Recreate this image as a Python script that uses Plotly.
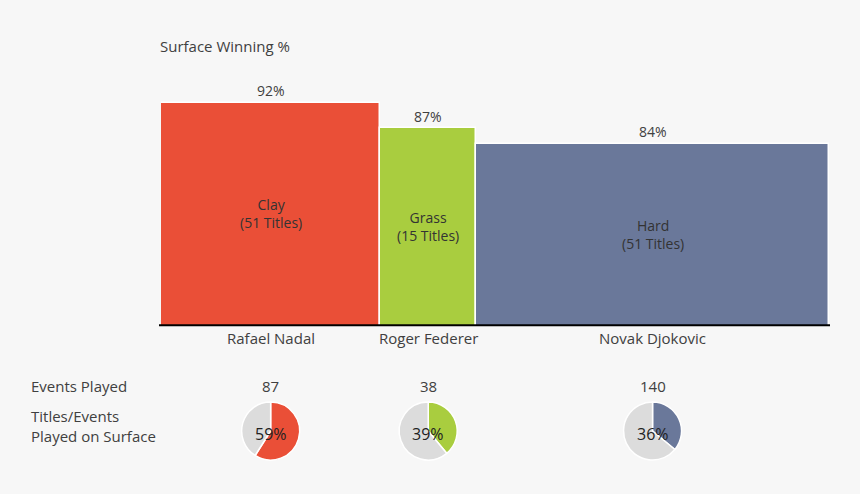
import plotly.graph_objects as go
import numpy as np

players = ["Rafael Nadal", "Roger Federer", "Novak Djokovic"]
surfaces = ["Clay", "Grass", "Hard"]
titles = [51, 15, 51]
win_pct = [92, 87, 84]
events_played = [87, 38, 140]
titles_share = [59, 39, 36]
colors = ["#EA4F37", "#A9CD3F", "#6A789A"]
rest_color = "#DCDCDC"

W, H = 860, 494
FONT = "Open Sans"
TXT = "#404040"

# layout geometry (pixels)
plot_l, plot_r = 161, 829
plot_top, plot_bot = 60, 325.3
y0 = 48.5
px_per_pct = 5.12
y1 = y0 + (plot_bot - plot_top) / px_per_pct

edges = np.concatenate([[0], np.cumsum(events_played)])
centers = (edges[:-1] + edges[1:]) / 2
total = edges[-1]

def py(p):
    return 1 - p / H

fig = go.Figure()
fig.add_trace(go.Bar(
    x=centers, y=win_pct, width=events_played,
    marker=dict(color=colors, line=dict(color="white", width=1.5)),
    showlegend=False, hoverinfo="skip",
))

annotations = []
annotations.append(dict(text="Surface Winning %", x=159 / W, y=py(46), xref="paper", yref="paper",
                        xanchor="left", yanchor="middle", showarrow=False, borderpad=0,
                        font=dict(size=15, color=TXT)))
for i in range(3):
    annotations.append(dict(text=f"{win_pct[i]}%", x=centers[i], y=win_pct[i], xref="x", yref="y",
                            xanchor="center", yanchor="middle", yshift=12, showarrow=False,
                            font=dict(size=14, color=TXT)))
    annotations.append(dict(text=f"{surfaces[i]}<br>({titles[i]} Titles)", x=centers[i],
                            y=(win_pct[i] + y0) / 2, xref="x", yref="y",
                            xanchor="center", yanchor="middle", showarrow=False,
                            font=dict(size=14, color="#333333")))
    annotations.append(dict(text=players[i], x=centers[i], y=py(338), xref="x", yref="paper",
                            xanchor="center", yanchor="middle", showarrow=False,
                            font=dict(size=15, color=TXT)))
    annotations.append(dict(text=str(events_played[i]), x=centers[i], y=py(386), xref="x", yref="paper",
                            xanchor="center", yanchor="middle", showarrow=False,
                            font=dict(size=15, color=TXT)))
    annotations.append(dict(text=f"{titles_share[i]}%", x=centers[i], y=py(434), xref="x", yref="paper",
                            xanchor="center", yanchor="middle", showarrow=False,
                            font=dict(size=16, color="#222222")))
    cx = plot_l + centers[i] / total * (plot_r - plot_l)
    r = 29
    fig.add_trace(go.Pie(
        values=[titles_share[i], 100 - titles_share[i]],
        marker=dict(colors=[colors[i], rest_color], line=dict(color="white", width=1.5)),
        sort=False, direction="clockwise", rotation=0, textinfo="none",
        hoverinfo="skip", showlegend=False,
        domain=dict(x=[(cx - r) / W, (cx + r) / W], y=[py(431 + r), py(431 - r)]),
    ))

annotations.append(dict(text="Events Played", x=30 / W, y=py(386), xref="paper", yref="paper",
                        xanchor="left", yanchor="middle", showarrow=False, borderpad=0,
                        font=dict(size=15, color=TXT)))
annotations.append(dict(text="Titles/Events<br>Played on Surface", x=30 / W, y=py(426), xref="paper",
                        yref="paper", xanchor="left", yanchor="middle", align="left", showarrow=False,
                        borderpad=0, font=dict(size=15, color=TXT)))

fig.update_layout(
    width=W, height=H,
    margin=dict(l=0, r=0, t=0, b=0),
    paper_bgcolor="#F7F7F7", plot_bgcolor="#F7F7F7",
    font=dict(family=FONT, color=TXT),
    bargap=0,
    xaxis=dict(domain=[plot_l / W, plot_r / W], range=[0, total], visible=False, fixedrange=True),
    yaxis=dict(domain=[py(plot_bot), py(plot_top)], range=[y0, y1], visible=False, fixedrange=True),
    annotations=annotations,
    shapes=[dict(type="line", xref="paper", yref="paper", x0=159 / W, x1=830 / W,
                 y0=py(plot_bot), y1=py(plot_bot), line=dict(color="black", width=2))],
)

fig.write_html("out.html")
